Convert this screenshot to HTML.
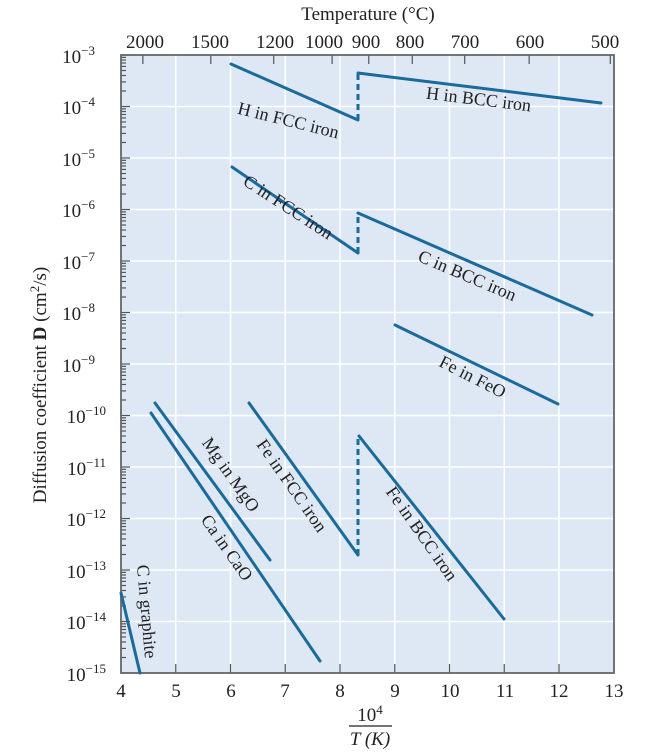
<!DOCTYPE html>
<html><head><meta charset="utf-8"><style>
html,body{margin:0;padding:0;background:#fff;}
svg{display:block;font-family:"Liberation Serif",serif;}
</style></head><body>
<svg id="s" width="655" height="754" viewBox="0 0 655 754" xmlns="http://www.w3.org/2000/svg">
<rect x="121" y="55" width="493" height="618" fill="#dde8f4"/>
<g id="grid" stroke="#ffffff" stroke-width="1.5"></g>
<g id="ticks" stroke="#555" stroke-width="1.2"></g>
<rect x="121" y="55" width="493" height="618" fill="none" stroke="#666" stroke-width="1.8"/>
<g fill="none" stroke="#1a6a9c" stroke-width="3" stroke-linecap="round">
<polyline points="231,64 358,120"/>
<polyline points="358,73 601,103"/>
<polyline points="232,167 358,253"/>
<polyline points="358,213 592,315"/>
<polyline points="395,325 558,404"/>
<polyline points="249,403 358,555"/>
<polyline points="359,436 504,619"/>
<polyline points="155,403 270,560"/>
<polyline points="151,413 320,661"/>
<polyline points="121,593 140,673"/>
<g stroke-dasharray="6,4" stroke-linecap="butt">
<line x1="358" y1="120" x2="358" y2="73"/>
<line x1="358" y1="253" x2="358" y2="213"/>
<line x1="358" y1="555" x2="358" y2="436"/>
</g>
</g>
<g font-size="18" fill="#222" text-anchor="middle">
<text transform="translate(287,126) rotate(14)">H in FCC iron</text>
<text transform="translate(478,105) rotate(7)">H in BCC iron</text>
<text transform="translate(285,212) rotate(33)">C in FCC iron</text>
<text transform="translate(465,281) rotate(23)">C in BCC iron</text>
<text transform="translate(470,382) rotate(27)">Fe in FeO</text>
<text transform="translate(226,478) rotate(55)">Mg in MgO</text>
<text transform="translate(222,551) rotate(55)">Ca in CaO</text>
<text transform="translate(287,489) rotate(55)">Fe in FCC iron</text>
<text transform="translate(417,537) rotate(55)">Fe in BCC iron</text>
<text transform="translate(141,612) rotate(85)">C in graphite</text>
</g>
<g font-size="19" fill="#222" text-anchor="middle">
<text x="368" y="20">Temperature (°C)</text>
<text x="145" y="48">2000</text>
<text x="210" y="48">1500</text>
<text x="275" y="48">1200</text>
<text x="324" y="48">1000</text>
<text x="366" y="48">900</text>
<text x="410" y="48">800</text>
<text x="465" y="48">700</text>
<text x="530" y="48">600</text>
<text x="605" y="48">500</text>
<text x="121" y="697">4</text>
<text x="176" y="697">5</text>
<text x="231" y="697">6</text>
<text x="285" y="697">7</text>
<text x="340" y="697">8</text>
<text x="395" y="697">9</text>
<text x="450" y="697">10</text>
<text x="505" y="697">11</text>
<text x="559" y="697">12</text>
<text x="614" y="697">13</text>
<text x="370" y="721">10<tspan font-size="13" dy="-7">4</tspan></text>
<text x="370" y="745" font-style="italic">T (K)</text>
</g>
<line x1="349" y1="726" x2="392" y2="726" stroke="#222" stroke-width="1.2"/>
<g font-size="19" fill="#222" text-anchor="end">
<text x="95" y="63">10<tspan font-size="13" dy="-8">−3</tspan></text>
<text x="95" y="114">10<tspan font-size="13" dy="-8">−4</tspan></text>
<text x="95" y="166">10<tspan font-size="13" dy="-8">−5</tspan></text>
<text x="95" y="217">10<tspan font-size="13" dy="-8">−6</tspan></text>
<text x="95" y="269">10<tspan font-size="13" dy="-8">−7</tspan></text>
<text x="95" y="320">10<tspan font-size="13" dy="-8">−8</tspan></text>
<text x="95" y="372">10<tspan font-size="13" dy="-8">−9</tspan></text>
<text x="106" y="423">10<tspan font-size="13" dy="-8">−10</tspan></text>
<text x="106" y="475">10<tspan font-size="13" dy="-8">−11</tspan></text>
<text x="106" y="526">10<tspan font-size="13" dy="-8">−12</tspan></text>
<text x="106" y="578">10<tspan font-size="13" dy="-8">−13</tspan></text>
<text x="106" y="629">10<tspan font-size="13" dy="-8">−14</tspan></text>
<text x="106" y="681">10<tspan font-size="13" dy="-8">−15</tspan></text>
</g>
<text transform="translate(46,385) rotate(-90)" font-size="19" fill="#222" text-anchor="middle">Diffusion coefficient <tspan font-weight="bold">D</tspan> (cm<tspan font-size="13" dy="-7">2</tspan><tspan dy="7">/s)</tspan></text>
</svg>
<script>
var ns="http://www.w3.org/2000/svg";
function L(g,x1,y1,x2,y2){var l=document.createElementNS(ns,"line");l.setAttribute("x1",x1);l.setAttribute("y1",y1);l.setAttribute("x2",x2);l.setAttribute("y2",y2);document.getElementById(g).appendChild(l);}
function X(v){return 121+54.75*(v-4);}
function Y(e){return 55+(-3-e)*51.5;}
for(var v=5;v<=12;v++){L("grid",X(v),55,X(v),673);L("ticks",X(v),673,X(v),664);}
for(var e=-4;e>=-14;e--){L("grid",121,Y(e),614,Y(e));}
for(var e=-3;e>=-15;e--){L("ticks",121,Y(e),130,Y(e));
 if(e>-15)for(var k=2;k<=9;k++){var y=Y(e)+51.5*(1-Math.log10(k));L("ticks",121,y,126,y);}}
[2000,1500,1200,1000,900,800,700,600,500].forEach(function(t){var x=X(1e4/(t+273));L("ticks",x,55,x,64);});
</script>
</body></html>
